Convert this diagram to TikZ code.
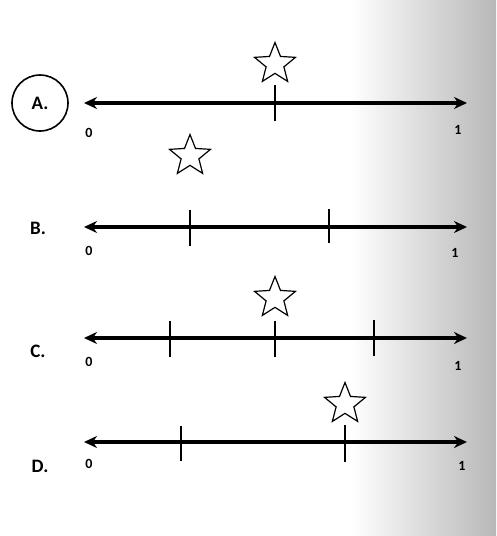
\documentclass[tikz,border=0pt]{standalone}
\usepackage{fontspec}
\setmainfont{Carlito}
\usetikzlibrary{arrows.meta,shapes.geometric}
\tikzset{
  numline/.style={line width=3.2pt, {Stealth[length=13pt,width=12pt]}-{Stealth[length=13pt,width=12pt]}},
  tick/.style={line width=2.2pt},
  starmark/.style={star, star points=5, star point ratio=2.3, draw, line width=1.2pt, minimum size=43pt, inner sep=0pt},
  letter/.style={font=\bfseries\fontsize{19}{19}\selectfont},
  endlabel/.style={font=\bfseries\fontsize{14}{14}\selectfont}
}
\begin{document}
\begin{tikzpicture}[x=1pt,y=-1pt]
    \useasboundingbox (0,0) rectangle (496,536);
    % 右侧灰色底纹
    \shade[left color=white, right color=black!28] (350,0) rectangle (496,536);

    % 数轴 A
    \node[letter] (la) at (40,103) {A.};
    \draw[line width=1.6pt] (la) circle (28);
    \coordinate (a0) at (84,103);
    \coordinate (a1) at (467,103);
    \draw[numline] (a0) -- (a1);
    \draw[tick] (275,85) -- (275,121);
    \node[starmark] (sa) at (275,64) {};
    \node[endlabel] (za) at (89,133) {0};
    \node[endlabel] (oa) at (458,130) {1};

    % 数轴 B
    \node[letter] (lb) at (38,228) {B.};
    \coordinate (b0) at (84,227);
    \coordinate (b1) at (467,227);
    \draw[numline] (b0) -- (b1);
    \draw[tick] (190,210) -- (190,246);
    \draw[tick] (329,209) -- (329,243);
    \node[starmark] (sb) at (190,156) {};
    \node[endlabel] (zb) at (89,251) {0};
    \node[endlabel] (ob) at (455,253) {1};

    % 数轴 C
    \node[letter] (lc) at (38,351) {C.};
    \coordinate (c0) at (84,338);
    \coordinate (c1) at (467,338);
    \draw[numline] (c0) -- (c1);
    \draw[tick] (170,321) -- (170,357);
    \draw[tick] (275,321) -- (275,357);
    \draw[tick] (374,320) -- (374,356);
    \node[starmark] (sc) at (275,298) {};
    \node[endlabel] (zc) at (89,362) {0};
    \node[endlabel] (oc) at (458,366) {1};

    % 数轴 D
    \node[letter] (ld) at (40,466) {D.};
    \coordinate (d0) at (84,442);
    \coordinate (d1) at (467,442);
    \draw[numline] (d0) -- (d1);
    \draw[tick] (181,426) -- (181,461);
    \draw[tick] (345,425) -- (345,462);
    \node[starmark] (sd) at (345,404) {};
    \node[endlabel] (zd) at (89,464) {0};
    \node[endlabel] (od) at (462,466) {1};
\end{tikzpicture}
\end{document}
